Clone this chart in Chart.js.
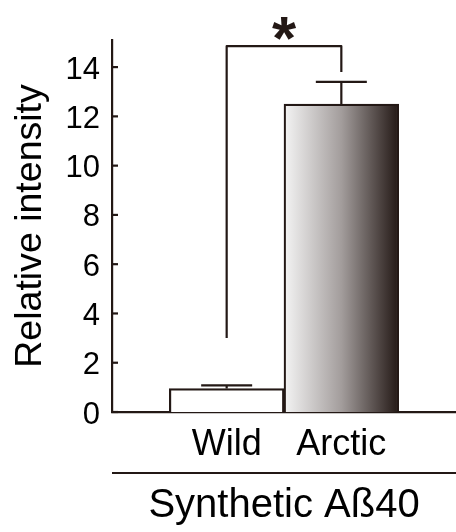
<!DOCTYPE html>
<html>
<head>
<meta charset="utf-8">
<script src="https://cdn.jsdelivr.net/npm/chart.js@4/dist/chart.umd.min.js"></script>
<style>
  body { margin: 0; background: #fff; }
  #wrap { width: 456px; height: 532px; }
</style>
</head>
<body>
<div id="wrap"><canvas id="barChart" width="456" height="532"></canvas></div>
<script>
const categories = ['Wild', 'Arctic'];
const values = [0.95, 12.5];
const errors = [0.13, 0.9];
const yTicks = [0, 2, 4, 6, 8, 10, 12, 14];
const bracketEnds = [3.0, 13.8];
const bracketTop = 14.85;
const groupLabel = 'Synthetic Aß40';
const yLabel = 'Relative intensity';

const ink = '#231815';
const font = 'Liberation Sans, Arial, Helvetica, sans-serif';

const marks = {
  id: 'marks',
  afterDatasetsDraw(chart) {
    const {ctx, scales: {x, y}} = chart;
    ctx.save();
    ctx.strokeStyle = ink;
    ctx.lineWidth = 2.2;
    ctx.lineCap = 'butt';

    // inward tick marks on the y axis
    y.ticks.forEach(t => {
      const py = y.getPixelForValue(t.value);
      ctx.beginPath();
      ctx.moveTo(x.left, py);
      ctx.lineTo(x.left + 6, py);
      ctx.stroke();
    });

    // error bars
    values.forEach((v, i) => {
      const cx = x.getPixelForValue(i + 1);
      const y0 = y.getPixelForValue(v);
      const y1 = y.getPixelForValue(v + errors[i]);
      ctx.beginPath();
      ctx.moveTo(cx, y0);
      ctx.lineTo(cx, y1);
      ctx.moveTo(cx - 25.5, y1);
      ctx.lineTo(cx + 25.5, y1);
      ctx.stroke();
    });

    // significance bracket
    const xa = x.getPixelForValue(1);
    const xb = x.getPixelForValue(2);
    const yt = y.getPixelForValue(bracketTop);
    ctx.lineJoin = 'round';
    ctx.beginPath();
    ctx.moveTo(xa, y.getPixelForValue(bracketEnds[0]));
    ctx.lineTo(xa, yt);
    ctx.lineTo(xb, yt);
    ctx.lineTo(xb, y.getPixelForValue(bracketEnds[1]));
    ctx.stroke();

    ctx.fillStyle = ink;
    ctx.font = 'bold 62px ' + font;
    ctx.textAlign = 'center';
    ctx.textBaseline = 'alphabetic';
    ctx.fillText('*', (xa + xb) / 2, yt + 13);

    // group line under the category labels
    ctx.beginPath();
    ctx.moveTo(x.left, x.top + 61);
    ctx.lineTo(chart.width, x.top + 61);
    ctx.stroke();
    ctx.restore();
  }
};

const ctx = document.getElementById('barChart').getContext('2d');
new Chart(ctx, {
  type: 'bar',
  data: {
    datasets: [{
      data: values.map((v, i) => ({x: i + 1, y: v})),
      backgroundColor: c => {
        if (c.dataIndex === 0) return '#ffffff';
        const chart = c.chart;
        if (!chart.chartArea) return '#999999';
        const xs = chart.scales.x;
        const cx = xs.getPixelForValue(c.dataIndex + 1);
        const half = (xs.getPixelForValue(1) - xs.getPixelForValue(0)) / 2;
        const g = chart.ctx.createLinearGradient(cx - half, 0, cx + half, 0);
        g.addColorStop(0, '#f4f4f4');
        g.addColorStop(0.5, '#a39d9c');
        g.addColorStop(1, '#231815');
        return g;
      },
      borderColor: ink,
      borderWidth: 2.2,
      barPercentage: 1,
      categoryPercentage: 1
    }]
  },
  options: {
    responsive: false,
    animation: false,
    layout: { padding: { top: 40, right: 0, left: 0, bottom: 0 } },
    scales: {
      x: {
        type: 'linear',
        min: 0,
        max: 3,
        offset: false,
        afterBuildTicks: s => { s.ticks = [0, 1, 2, 3].map(v => ({value: v})); },
        afterFit: s => { s.height = 120; s.paddingLeft = 0; s.paddingRight = 0; },
        grid: { display: false, drawTicks: false },
        border: { display: true, color: ink, width: 2.2 },
        ticks: {
          autoSkip: false,
          maxRotation: 0,
          minRotation: 0,
          padding: 11,
          color: '#000',
          font: { family: font, size: 36 },
          callback: v => categories[v - 1] || ''
        },
        title: {
          display: true,
          text: groupLabel,
          color: '#000',
          font: { family: font, size: 40 },
          padding: { top: 0, bottom: 2 }
        }
      },
      y: {
        min: 0,
        max: 15.1,
        afterBuildTicks: s => { s.ticks = yTicks.map(v => ({value: v})); },
        afterFit: s => { s.width = 112; },
        grid: { display: false, drawTicks: false },
        border: { display: true, color: ink, width: 2.2 },
        ticks: {
          padding: 12,
          labelOffset: 3,
          color: '#000',
          font: { family: font, size: 31 }
        },
        title: {
          display: true,
          text: yLabel,
          color: '#000',
          font: { family: font, size: 37.5 },
          padding: { top: 8, bottom: 0 }
        }
      }
    },
    plugins: {
      legend: { display: false },
      tooltip: { enabled: false }
    }
  },
  plugins: [marks]
});
</script>
</body>
</html>
